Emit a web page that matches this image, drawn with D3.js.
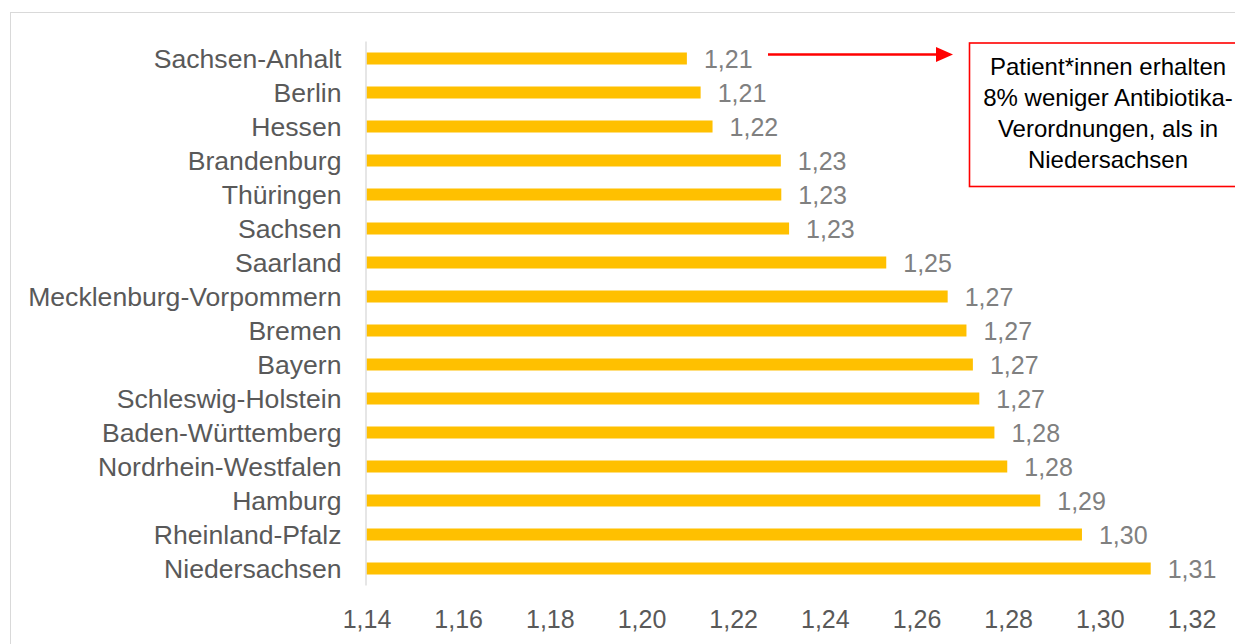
<!DOCTYPE html>
<html>
<head>
<meta charset="utf-8">
<script src="https://cdn.jsdelivr.net/npm/d3@7"></script>
<style>
  html, body { margin: 0; padding: 0; background: #fff; }
  svg { display: block; }
</style>
</head>
<body>
<svg id="chart" width="1235" height="644"></svg>
<script>
const categories = [
  "Sachsen-Anhalt", "Berlin", "Hessen", "Brandenburg", "Thüringen", "Sachsen",
  "Saarland", "Mecklenburg-Vorpommern", "Bremen", "Bayern", "Schleswig-Holstein",
  "Baden-Württemberg", "Nordrhein-Westfalen", "Hamburg", "Rheinland-Pfalz", "Niedersachsen"
];
const values = [
  1.2099, 1.2129, 1.2155, 1.2304, 1.2305, 1.2322,
  1.2534, 1.2668, 1.2709, 1.2723, 1.2737,
  1.2770, 1.2798, 1.2870, 1.2961, 1.3111
];
const tickValues = [1.14, 1.16, 1.18, 1.20, 1.22, 1.24, 1.26, 1.28, 1.30, 1.32];
const annotationLines = [
  "Patient*innen erhalten",
  "8% weniger Antibiotika-",
  "Verordnungen, als in",
  "Niedersachsen"
];

const data = categories.map((c, i) => ({ name: c, value: values[i] }));
const fmt = v => d3.format(".2f")(v).replace(".", ",");
const FONT = "'Liberation Sans', Arial, sans-serif";

const svg = d3.select("#chart");

// outer chart frame
svg.append("rect")
  .attr("x", 10.5).attr("y", 12.5)
  .attr("width", 1300).attr("height", 700)
  .attr("fill", "none").attr("stroke", "#d9d9d9").attr("stroke-width", 1);

const x = d3.scaleLinear().domain([1.14, 1.32]).range([366.5, 1191.5]);
const y = d3.scaleBand().domain(categories).range([41.5, 585.5])
  .paddingInner(0.647).paddingOuter(0.3235);

// bars
svg.append("g").selectAll("rect").data(data).join("rect")
  .attr("x", x(1.14))
  .attr("y", d => y(d.name))
  .attr("width", d => x(d.value) - x(1.14))
  .attr("height", y.bandwidth())
  .attr("fill", "#FFC000");

// vertical axis line
svg.append("line")
  .attr("x1", 366).attr("x2", 366)
  .attr("y1", 41.5).attr("y2", 585.5)
  .attr("stroke", "#d9d9d9").attr("stroke-width", 1.3);

// category labels
svg.append("g").selectAll("text").data(data).join("text")
  .attr("x", 341.5)
  .attr("y", d => y(d.name) + y.bandwidth() / 2)
  .attr("dy", "0.35em")
  .attr("text-anchor", "end")
  .attr("font-family", FONT).attr("font-size", 26.6)
  .attr("fill", "#595959")
  .text(d => d.name);

// value labels
svg.append("g").selectAll("text").data(data).join("text")
  .attr("x", d => x(d.value) + 17)
  .attr("y", d => y(d.name) + y.bandwidth() / 2)
  .attr("dy", "0.36em")
  .attr("font-family", FONT).attr("font-size", 25)
  .attr("fill", "#808080")
  .text(d => fmt(d.value));

// x axis tick labels
const xAxis = d3.axisBottom(x).tickValues(tickValues).tickFormat(fmt).tickSize(0).tickPadding(0);
const gx = svg.append("g").attr("transform", "translate(0,600)").call(xAxis);
gx.select(".domain").remove();
gx.selectAll("text")
  .attr("font-family", FONT).attr("font-size", 25)
  .attr("fill", "#595959")
  .attr("dy", "1.1em");

// annotation arrow
const ay = y(categories[0]) + y.bandwidth() / 2 - 4;
svg.append("line")
  .attr("x1", 768).attr("x2", 938)
  .attr("y1", ay).attr("y2", ay)
  .attr("stroke", "#ff0000").attr("stroke-width", 2.6);
svg.append("path")
  .attr("d", `M936,${ay - 7.5} L953,${ay} L936,${ay + 7.5} Z`)
  .attr("fill", "#ff0000");

// annotation box
svg.append("rect")
  .attr("x", 969.5).attr("y", 43)
  .attr("width", 277).attr("height", 143.5)
  .attr("fill", "#fff").attr("stroke", "#ff0000").attr("stroke-width", 1.6);
svg.append("g").selectAll("text").data(annotationLines).join("text")
  .attr("x", 1108)
  .attr("y", (d, i) => 67 + i * 31)
  .attr("dy", "0.35em")
  .attr("text-anchor", "middle")
  .attr("font-family", FONT).attr("font-size", 24)
  .attr("fill", "#000")
  .text(d => d);
</script>
</body>
</html>
